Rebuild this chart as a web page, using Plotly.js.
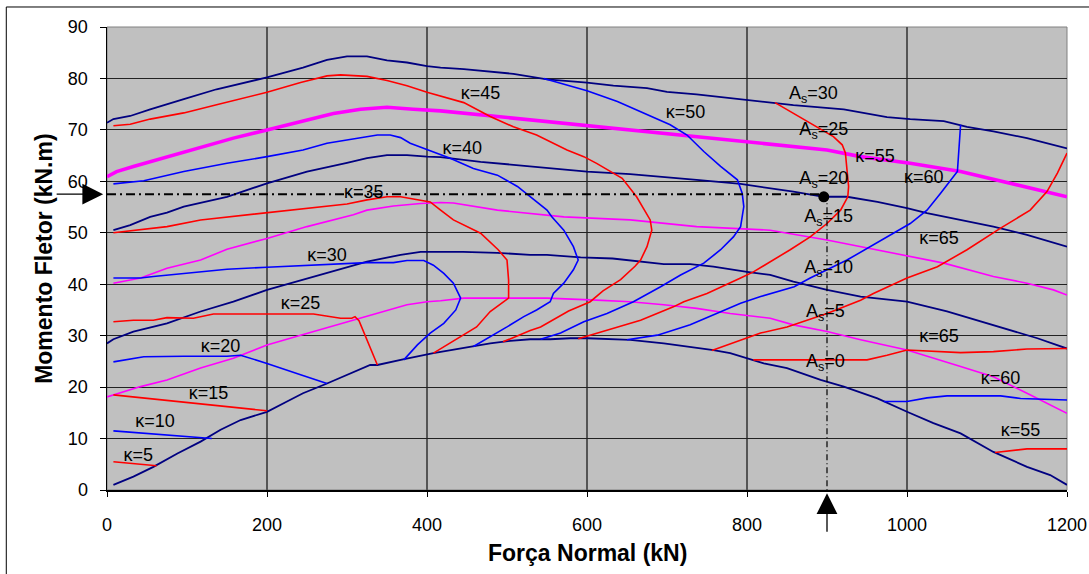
<!DOCTYPE html>
<html>
<head>
<meta charset="utf-8">
<script src="https://cdn.plot.ly/plotly-3.0.1.min.js"></script>
<style>html,body{margin:0;padding:0;background:#fff;}#chart{width:1089px;height:574px;}</style>
</head>
<body>
<div id="chart"></div>
<script>
// ---- As curves (Força Normal N in kN, Momento M in kN.m) ----
const As0_N = [8,33,58,88,117,142,167,200,225,245,275,304,329,338,354,370,408,429,454,479,504,529,554,579,600,629,654,696,737,758,779,800,821,850,892,921,963,1000,1033,1067,1108,1150,1179,1200];
const As0_M = [1.0,2.6,4.5,7.1,9.4,11.7,13.6,15.2,17.2,18.8,20.7,22.7,24.3,24.3,24.9,25.4,26.6,27.2,27.9,28.5,29.0,29.3,29.3,29.5,29.5,29.3,29.2,28.5,27.7,27.2,26.6,25.6,24.6,23.7,21.4,20.1,17.8,15.2,13.0,11.0,7.4,4.5,2.9,1.0];
const As5_N = [0,42,75,117,158,200,242,283,325,375,400,417,446,488,550,612,654,696,737,779,829,858,900,942,1000,1067,1108,1150,1200];
const As5_M = [18.1,20.1,21.4,23.7,25.6,28.2,30.1,31.9,33.7,36.0,36.6,36.8,37.3,37.3,37.3,36.9,36.6,36.0,35.3,34.3,33.4,32.1,30.8,29.2,27.2,24.0,22.0,18.8,14.9];
const As10_N = [0,8,33,75,117,158,200,242,283,325,367,392,417,445,488,529,550,592,632,654,696,729,758,800,829,858,900,942,1000,1050,1108,1163,1200];
const As10_M = [28.5,29.3,30.8,32.4,34.7,36.6,38.9,40.7,42.6,44.4,45.7,46.3,46.3,46.3,46.1,45.7,45.7,45.2,45.0,44.6,43.9,43.9,43.4,42.4,41.8,40.5,38.9,37.6,36.6,34.7,32.1,29.5,27.5];
const As15_N = [8,42,75,117,150,200,250,308,325,358,392,417,433,488,571,654,737,829,900,963,1046,1108,1150,1183,1200];
const As15_M = [40.2,41.2,43.1,44.7,46.8,48.9,51.2,53.5,54.4,55.2,55.7,55.9,55.8,54.4,53.1,52.5,51.2,50.5,48.6,46.7,44.1,41.5,40.2,38.9,37.9];
const As20_N = [8,29,54,75,96,150,200,250,300,325,350,375,400,417,467,529,600,654,696,737,792,829,858,896,925,963,1000,1025,1067,1108,1150,1200];
const As20_M = [50.5,51.5,53.1,53.9,55.1,57.0,59.6,61.9,63.6,64.5,65.1,65.1,64.8,64.7,63.8,62.9,61.9,61.4,60.9,60.3,59.5,58.7,58.0,57.0,57.0,56.0,54.8,53.8,52.5,51.2,49.6,47.3];
const As25_N = [0,12,33,75,117,158,200,242,283,317,350,383,417,488,571,654,737,829,900,942,1004,1067,1129,1175,1200];
const As25_M = [60.9,61.9,62.9,64.8,66.7,68.4,70.0,71.6,73.2,74.0,74.4,74.0,73.7,72.6,71.3,70.0,68.7,67.3,66.1,64.8,63.5,61.9,59.6,58.0,57.0];
const As30_N = [0,8,29,54,96,137,200,245,275,300,325,350,375,400,417,446,508,550,600,633,675,700,737,771,800,829,858,921,975,1004,1046,1075,1108,1150,1200];
const As30_M = [71.4,72.1,72.7,74.0,76.0,77.9,80.2,82.1,83.6,84.3,84.3,83.5,83.1,82.4,82.1,81.8,80.9,79.8,79.2,78.6,78.1,77.4,76.9,76.3,75.7,75.3,74.8,74.0,72.5,72.1,71.7,70.6,69.7,68.4,66.4];

// ---- kappa curves ----
const k5_N = [8,62], k5_M = [5.5,4.7];
const k10_N = [8,131], k10_M = [11.5,10.0];
const k15_N = [8,200], k15_M = [18.5,15.4];
const k20_N = [8,46,96,150,167,200,242,275];
const k20_M = [24.9,25.9,26.0,26.0,26.2,24.6,22.4,20.7];
const k25_N = [8,33,58,75,108,133,192,258,292,306,310,315,338];
const k25_M = [32.7,33.0,33.0,33.5,33.4,34.2,34.2,34.2,33.4,33.4,33.7,32.9,24.3];
const k30_N = [8,42,58,88,150,200,263,325,358,375,396,408,421,433,442,436,421,404,388,371];
const k30_M = [41.2,41.2,41.5,42.0,42.9,43.3,43.7,44.2,44.2,44.6,44.6,43.7,42.1,40.2,37.3,35.0,32.4,30.5,28.2,25.3];
const k35_N = [8,75,117,200,250,300,325,350,367,392,404,417,433,467,489,500,502,502,479,462,442,408];
const k35_M = [50.0,51.2,52.5,53.9,54.8,55.6,56.4,57.0,57.0,56.4,56.0,54.4,52.5,49.9,46.7,44.7,40.8,37.3,34.7,31.7,29.8,26.6];
const k40_N = [8,46,96,150,200,245,275,308,338,354,367,379,400,417,429,458,488,513,529,550,556,571,583,589,583,571,558,554,537,521,500,475,458];
const k40_M = [59.5,60.1,61.9,63.5,64.8,66.1,67.4,68.2,69.0,69.0,68.5,67.4,66.2,65.1,64.5,62.5,61.2,59.0,57.0,54.4,53.1,50.5,47.3,44.7,42.8,40.2,38.2,36.6,35.0,33.7,31.7,29.5,27.9];
const k45_N = [8,29,54,96,137,200,242,275,292,325,350,375,400,420,446,479,508,537,575,596,612,644,662,679,681,675,667,660,642,620,604,577,562,542,529,495];
const k45_M = [70.8,71.1,72.1,73.3,74.9,77.3,79.2,80.5,80.7,80.4,79.6,78.6,77.3,76.4,75.3,72.6,70.6,69.0,66.1,64.8,63.5,60.6,57.0,52.5,50.5,47.3,44.7,43.5,40.9,38.7,36.6,34.8,33.4,31.7,31.0,28.8];
const k50_N = [546,600,638,675,704,725,746,767,788,794,796,792,783,767,750,746,717,692,658,625,596,567,542];
const k50_M = [80.0,77.6,75.5,72.9,71.0,69.0,65.8,62.9,60.3,57.7,55.1,51.2,49.2,46.7,44.7,44.1,41.8,39.5,36.6,34.3,32.7,30.5,29.3];
const k55_N = [835,858,888,908,919,923,925,927,926,917,900,879,854,833,808,792,750,721,708,667,625,589];
const k55_M = [75.3,73.2,70.6,68.7,67.1,65.5,62.2,59.0,57.0,54.4,51.8,49.2,46.7,44.7,42.4,41.2,38.2,36.6,35.6,33.0,31.1,29.4];
const k60_N = [1067,1065,1063,1042,1025,1004,983,954,925,900,879,859,817,792,763,729,688,650];
const k60_M = [71.0,65.4,61.9,57.7,54.4,51.8,49.9,47.3,44.7,42.8,41.2,39.5,37.6,36.3,34.3,32.1,30.1,29.2];
const k65_N = [756,800,817,850,900,942,958,1000,1038,1075,1117,1154,1175,1188,1200];
const k65_M = [27.1,29.5,30.5,31.7,34.3,36.9,38.2,41.2,43.4,46.7,50.9,54.4,58.0,61.6,65.5];
const k65b_N = [808,950,975,1000,1067,1108,1150,1200];
const k65b_M = [25.3,25.3,26.2,27.2,26.7,26.9,27.4,27.5];
const k60b_N = [971,1000,1025,1050,1117,1142,1200];
const k60b_M = [17.2,17.2,17.9,18.3,18.3,17.8,17.5];
const k55b_N = [1110,1150,1200];
const k55b_M = [7.3,8.0,8.0];

// ---- reference point (N = 900 kN, M = 57.5 kN.m) ----
const refN = [900];
const refM = [57.5];
const pointN = [896];
const pointM = [57.0];

// ---- curve labels ----
const labelText = ['κ=5','κ=10','κ=15','κ=20','κ=25','κ=30','κ=35','κ=40','κ=45','κ=50',
  'A<sub>s</sub>=30','A<sub>s</sub>=25','κ=55','A<sub>s</sub>=20','κ=60','A<sub>s</sub>=15','κ=65',
  'A<sub>s</sub>=10','A<sub>s</sub>=5','A<sub>s</sub>=0','κ=65','κ=60','κ=55'];
const labelN = [39,60,127,142,242,275,321,444,467,723,883,896,960,896,1021,902,1040,902,898,898,1040,1117,1142];
const labelM = [6.5,13.1,18.5,27.7,36.0,45.4,57.7,66.1,76.8,73.2,76.8,69.8,64.7,60.3,60.6,52.9,48.7,43.1,34.5,24.8,29.7,21.4,11.3];

// ---- tick labels ----
const xTicks = [0,200,400,600,800,1000,1200];
const yTicks = [0,10,20,30,40,50,60,70,80,90];

const NAVY = '#000080', RED = '#FF0000', BLUE = '#0000FF', MAG = '#FF00FF';
const FONT = 'Liberation Sans, Arial, sans-serif';
function line(x, y, color, width) {
  return {type:'scatter', mode:'lines', x:x, y:y, line:{color:color, width:width||1.6},
          hoverinfo:'skip', showlegend:false, cliponaxis:true};
}
const traces = [
  line(As0_N, As0_M, NAVY, 1.8),
  line(As5_N, As5_M, MAG, 1.6),
  line(As10_N, As10_M, NAVY, 1.8),
  line(As15_N, As15_M, MAG, 1.6),
  line(As20_N, As20_M, NAVY, 1.8),
  line(As25_N, As25_M, MAG, 3.6),
  line(As30_N, As30_M, NAVY, 1.8),
  line(k5_N, k5_M, RED), line(k10_N, k10_M, BLUE), line(k15_N, k15_M, RED),
  line(k20_N, k20_M, BLUE), line(k25_N, k25_M, RED), line(k30_N, k30_M, BLUE),
  line(k35_N, k35_M, RED), line(k40_N, k40_M, BLUE), line(k45_N, k45_M, RED),
  line(k50_N, k50_M, BLUE), line(k55_N, k55_M, RED), line(k60_N, k60_M, BLUE),
  line(k65_N, k65_M, RED), line(k65b_N, k65b_M, RED), line(k60b_N, k60b_M, BLUE),
  line(k55b_N, k55b_M, RED),
  {type:'scatter', mode:'lines', x:[0, refN[0]], y:[refM[0], refM[0]],
   line:{color:'#000', width:2, dash:'9px,4px,2px,4px'}, hoverinfo:'skip', showlegend:false},
  {type:'scatter', mode:'lines', x:[refN[0], refN[0]], y:[refM[0], 0],
   line:{color:'#000', width:1.2, dash:'6px,3px,1px,3px'}, hoverinfo:'skip', showlegend:false},
  {type:'scatter', mode:'markers', x:pointN, y:pointM,
   marker:{color:'#000', size:11}, hoverinfo:'skip', showlegend:false},
  {type:'scatter', mode:'text', x:labelN, y:labelM, text:labelText,
   textposition:'middle center', cliponaxis:false,
   textfont:{family:FONT, size:18, color:'#000'},
   hoverinfo:'skip', showlegend:false}
];

const layout = {
  width:1089, height:574,
  margin:{l:107, r:22, t:27, b:84},
  paper_bgcolor:'#FFFFFF', plot_bgcolor:'#C0C0C0',
  showlegend:false,
  font:{family:FONT, size:18, color:'#000'},
  xaxis:{range:[0,1200], tickvals:xTicks, ticktext:xTicks.map(String),
    ticks:'outside', ticklen:5, tickcolor:'#000', tickwidth:1,
    showline:true, linecolor:'#000', linewidth:2,
    showgrid:true, gridcolor:'#555555', gridwidth:1.3, zeroline:false,
    ticklabelstandoff:12, tickfont:{size:18}, fixedrange:true},
  yaxis:{range:[0,90], tickvals:yTicks, ticktext:yTicks.map(String),
    ticks:'outside', ticklen:6, tickcolor:'#000', tickwidth:1,
    showline:true, linecolor:'#000', linewidth:1.5,
    showgrid:true, gridcolor:'#222222', gridwidth:1, zeroline:false,
    ticklabelstandoff:8, tickfont:{size:18}, fixedrange:true},
  shapes:[
    {type:'rect', xref:'paper', yref:'paper', x0:0, x1:1, y0:0, y1:1,
     line:{color:'#808080', width:1}, layer:'below'},
    {type:'rect', xref:'paper', yref:'paper', x0:-0.1049, x1:1.05, y0:-0.3, y1:1.0432,
     line:{color:'#000', width:1}, layer:'above'}
  ],
  annotations:[
    {xref:'paper', yref:'paper', x:0.5, y:-0.136, xanchor:'center', yanchor:'middle',
     text:'<b>Força Normal (kN)</b>', showarrow:false,
     font:{family:FONT, size:23, color:'#000'}},
    {xref:'paper', yref:'paper', x:-0.0663, y:0.5, xanchor:'center', yanchor:'middle',
     text:'<b>Momento Fletor (kN.m)</b>', showarrow:false, textangle:-90,
     font:{family:FONT, size:23, color:'#000'}},
    // arrow pointing at the reference moment on the M axis
    {xref:'paper', yref:'y', x:-0.004, y:refM[0], ax:-48, ay:0,
     showarrow:true, arrowhead:2, arrowsize:3.2, arrowwidth:1.3, arrowcolor:'#000', text:''},
    // arrow pointing at the reference normal force on the N axis
    {xref:'x', yref:'paper', x:refN[0], y:-0.007, ax:0, ay:40,
     showarrow:true, arrowhead:2, arrowsize:3.2, arrowwidth:1.3, arrowcolor:'#000', text:''}
  ]
};

Plotly.newPlot('chart', traces, layout, {staticPlot:true, displayModeBar:false});
</script>
</body>
</html>
